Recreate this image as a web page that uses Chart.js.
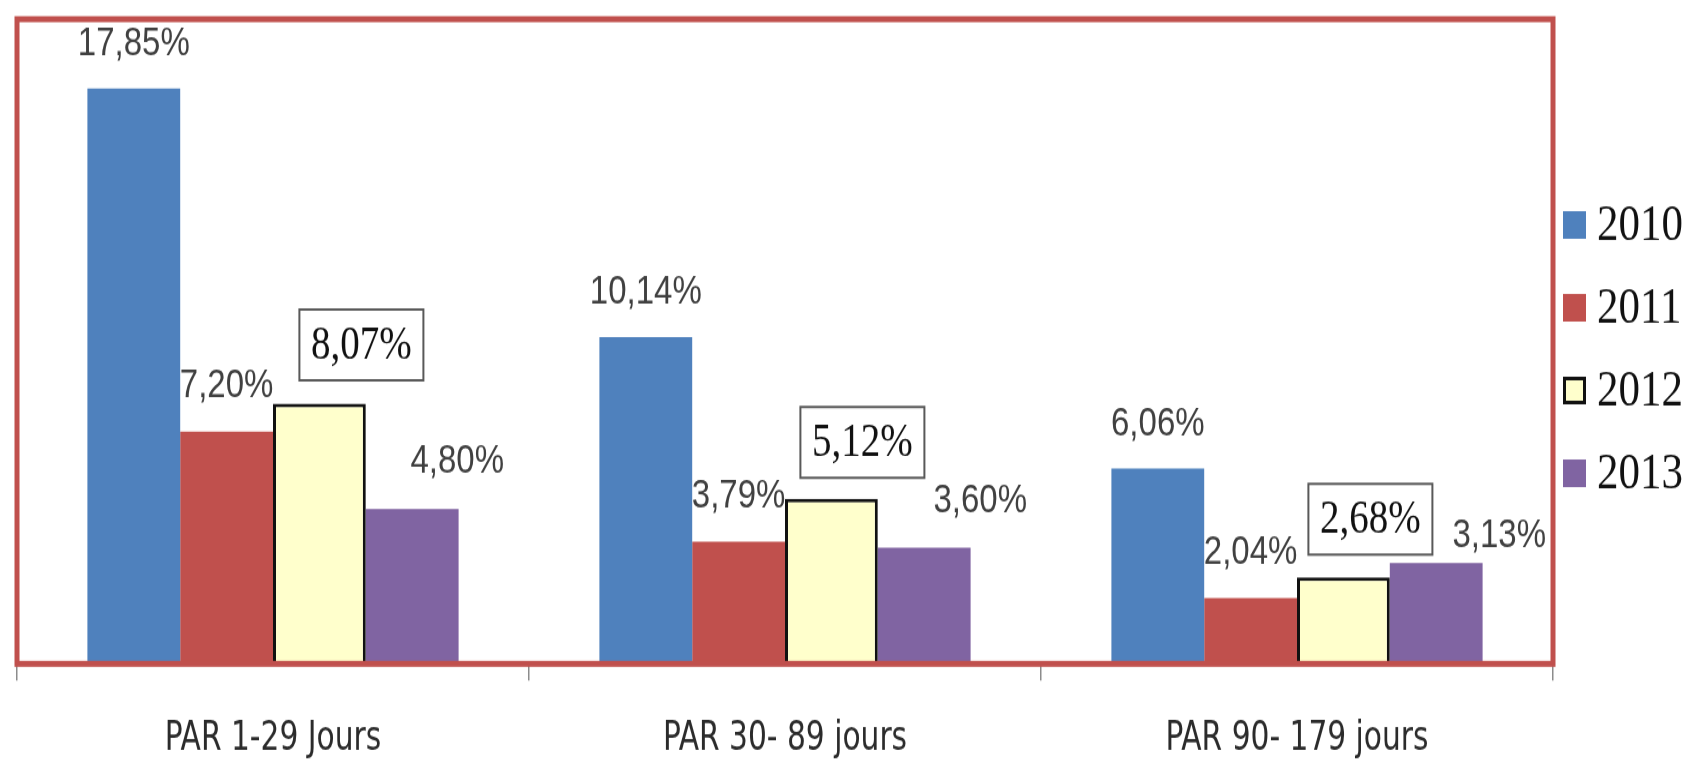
<!DOCTYPE html>
<html lang="fr">
<head>
<meta charset="utf-8">
<title>PAR par tranche</title>
<script src="https://cdn.jsdelivr.net/npm/chart.js@4.4.1/dist/chart.umd.min.js"></script>
<style>
  html, body { margin: 0; padding: 0; background: #fff; }
  #page { width: 1692px; height: 763px; overflow: hidden; }
  /* the source picture is stretched vertically, so the canvas is too */
  #wrap { width: 1692px; height: 636px; transform: scaleY(1.19969); transform-origin: 0 0; }
</style>
</head>
<body>
<div id="page"><div id="wrap"><canvas id="chart" width="1692" height="636"></canvas></div></div>
<script>
const categories = ["PAR 1-29 Jours", "PAR 30- 89 jours", "PAR 90- 179 jours"];
const years = ["2010", "2011", "2012", "2013"];
const values2010 = [17.85, 10.14, 6.06];
const values2011 = [7.20, 3.79, 2.04];
const values2012 = [8.07, 5.12, 2.68];
const values2013 = [4.80, 3.60, 3.13];
const yMax = 20;

const COLORS = ["#4f81bd", "#c0504d", "#ffffcc", "#8064a2"];
const FRAME_COLOR = "#c0504d";
const SANS = "'Liberation Sans', Arial, sans-serif";
const NARROW = "'Liberation Sans Narrow', 'DejaVu Sans Condensed', 'Liberation Sans', sans-serif";
const SERIF = "'Liberation Serif', 'Times New Roman', serif";

// label nudges [dx, dy] from the top centre of each bar (hand placed in the source)
const labelShift = [
  [[0, -37.5], [0, -37.5], [0, -38]],
  [[0, -38.5], [0, -38.5], [0, -38.5]],
  [[42, -49], [31, -47], [27, -48.5]],
  [[45, -40], [56, -40], [63, -23.5]],
];
const boxedSeries = 2;

const fmt = (v) => v.toFixed(2).replace(".", ",") + "%";

const plotFrame = {
  id: "plotFrame",
  afterDatasetsDraw(chart) {
    const { ctx, chartArea: a } = chart;
    ctx.save();
    ctx.strokeStyle = FRAME_COLOR;
    ctx.lineWidth = 5;
    ctx.strokeRect(a.left, a.top, a.right - a.left, a.bottom - a.top);
    ctx.restore();
  },
};

const valueLabels = {
  id: "valueLabels",
  afterDatasetsDraw(chart) {
    const ctx = chart.ctx;
    chart.data.datasets.forEach((ds, i) => {
      chart.getDatasetMeta(i).data.forEach((bar, j) => {
        const [dx, dy] = labelShift[i][j];
        const x = bar.x + dx;
        const y = bar.y + dy;
        const text = fmt(ds.data[j]);
        ctx.save();
        ctx.textAlign = "center";
        ctx.textBaseline = "middle";
        if (i === boxedSeries) {
          const w = 124, h = 59;
          ctx.fillStyle = "#fff";
          ctx.fillRect(x - w / 2, y - h / 2, w, h);
          ctx.strokeStyle = "#595959";
          ctx.lineWidth = 2;
          ctx.strokeRect(x - w / 2, y - h / 2, w, h);
          ctx.font = "39px " + SERIF;
          ctx.fillStyle = "#111";
        } else {
          ctx.font = "33px " + SANS;
          ctx.fillStyle = "#404040";
        }
        ctx.fillText(text, x, y + 1);
        ctx.restore();
      });
    });
  },
};

const sideLegend = {
  id: "sideLegend",
  afterDraw(chart) {
    const { ctx, chartArea: a } = chart;
    const x0 = a.right + 10;
    ctx.save();
    ctx.font = "43px " + SERIF;
    ctx.textBaseline = "middle";
    ctx.textAlign = "left";
    chart.data.datasets.forEach((ds, i) => {
      const cy = 187.5 + i * 69;
      ctx.fillStyle = ds.backgroundColor;
      ctx.fillRect(x0, cy - 11.5, 23, 23);
      if (ds.borderWidth) {
        ctx.strokeStyle = ds.borderColor;
        ctx.lineWidth = 3;
        ctx.strokeRect(x0 + 1.5, cy - 10, 20, 20);
      }
      ctx.fillStyle = "#111";
      ctx.fillText(ds.label, x0 + 34, cy + 1);
    });
    ctx.restore();
  },
};

const series = [values2010, values2011, values2012, values2013];

new Chart(document.getElementById("chart"), {
  type: "bar",
  data: {
    labels: categories,
    datasets: series.map((vals, i) => ({
      label: years[i],
      data: vals,
      backgroundColor: COLORS[i],
      borderColor: "#111",
      borderWidth: i === boxedSeries ? 3 : 0,
      categoryPercentage: 0.725,
      barPercentage: 1.0,
    })),
  },
  options: {
    responsive: false,
    devicePixelRatio: 1,
    animation: false,
    layout: { padding: { top: 16, left: 17, right: 139, bottom: 0 } },
    plugins: {
      legend: { display: false },
      tooltip: { enabled: false },
    },
    scales: {
      x: {
        grid: {
          offset: true,
          drawOnChartArea: false,
          drawTicks: true,
          tickLength: 14,
          color: "#8c8c8c",
          lineWidth: 1.5,
        },
        border: { display: false },
        ticks: {
          padding: 29,
          color: "#2b2b2b",
          autoSkip: false,
          maxRotation: 0,
          font: { family: NARROW, size: 33, lineHeight: 1.2 },
        },
        afterFit(scale) {
          scale.height = 82.7;
        },
      },
      y: { display: false, min: 0, max: yMax },
    },
  },
  plugins: [plotFrame, valueLabels, sideLegend],
});
</script>
</body>
</html>
